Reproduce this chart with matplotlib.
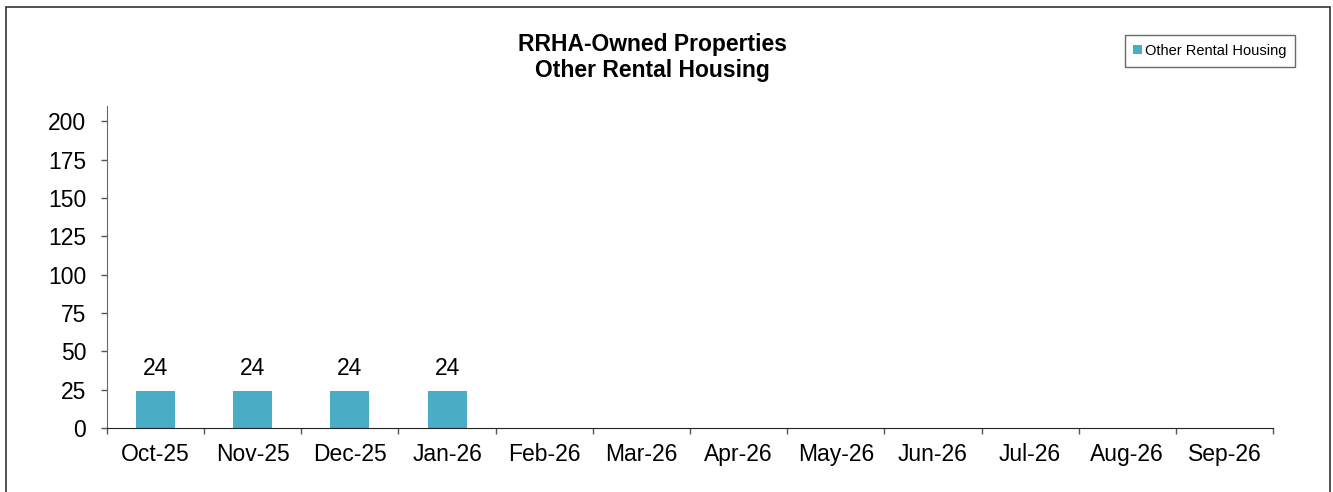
import matplotlib
matplotlib.use("Agg")
import matplotlib.pyplot as plt
from matplotlib.patches import Rectangle
import numpy as np

plt.rcParams['font.family'] = ['Liberation Sans', 'DejaVu Sans']

categories = ["Oct-25", "Nov-25", "Dec-25", "Jan-26", "Feb-26", "Mar-26",
              "Apr-26", "May-26", "Jun-26", "Jul-26", "Aug-26", "Sep-26"]
values = [24, 24, 24, 24, None, None, None, None, None, None, None, None]
series_name = "Other Rental Housing"
yticks = [0, 25, 50, 75, 100, 125, 150, 175, 200]

W, H = 1333, 492
fig = plt.figure(figsize=(W / 100, H / 100), dpi=100)
ax = fig.add_axes([107 / W, 1 - 428 / H, (1273 - 107) / W, (428 - 106) / H])

x = np.arange(len(categories))
vals = [v if v is not None else 0 for v in values]
bars = ax.bar(x, vals, width=0.4, color="#4BACC6", label=series_name, zorder=2)
for xi, v in zip(x, values):
    if v is not None:
        ax.text(xi, v + 7, str(v), ha="center", va="bottom", fontsize=16.5)

ax.set_xlim(-0.5, len(categories) - 0.5)
ax.set_ylim(0, 210)
ax.set_yticks(yticks)
ax.set_xticks(x)
ax.set_xticklabels(categories, fontsize=16.5)
ax.tick_params(axis="x", length=0, pad=11)
ax.set_xticks(np.arange(-0.5, len(categories)), minor=True)
ax.tick_params(axis="x", which="minor", length=4.5, width=1, color="#555555")
ax.tick_params(axis="y", labelsize=16.5, length=4.5, width=1, color="#555555", pad=10.5)
for s in ["top", "right"]:
    ax.spines[s].set_visible(False)
ax.spines["left"].set_color("#666666")
ax.spines["bottom"].set_color("#222222")

fig.text(652 / W, 1 - 44 / H, "RRHA-Owned Properties", ha="center", va="center",
         fontsize=16.5, fontweight="bold")
fig.text(652 / W, 1 - 71 / H, "Other Rental Housing", ha="center", va="center",
         fontsize=16.5, fontweight="bold")

leg = fig.legend(handles=[bars], labels=[series_name], loc="center",
                 bbox_to_anchor=(1210 / W, 1 - 51 / H), fontsize=10.5,
                 frameon=True, fancybox=False, edgecolor="#444444",
                 handlelength=0.6, handleheight=0.6, handletextpad=0.2,
                 borderpad=0.6, borderaxespad=0)
leg.get_frame().set_linewidth(1)

fig.patches.append(Rectangle((6 / W, -0.05), (1330 - 6) / W, 1 - 7 / H + 0.05,
                             transform=fig.transFigure, fill=False,
                             edgecolor="#333333", linewidth=1.2))

fig.savefig("out.png", dpi=100)
